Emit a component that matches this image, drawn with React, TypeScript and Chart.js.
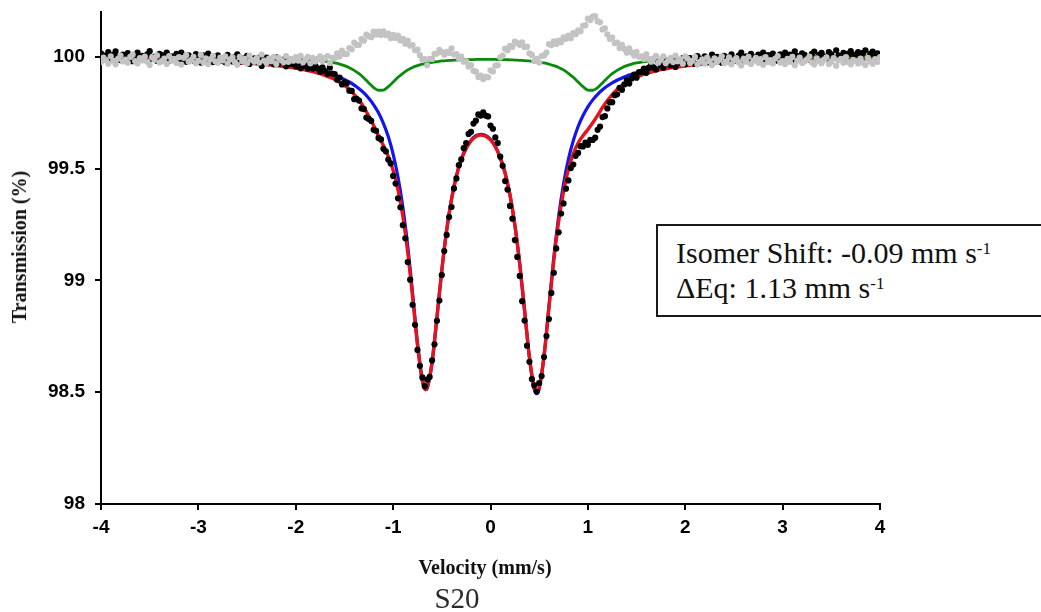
import { useEffect, useRef } from 'react';
import { Chart, registerables } from 'chart.js';

Chart.register(...registerables);

// Velocity channels (mm/s)
const channelVelocity = [
  -4, -3.975, -3.95, -3.925, -3.9, -3.875, -3.85, -3.825, -3.8, -3.775,
  -3.75, -3.725, -3.7, -3.675, -3.65, -3.625, -3.6, -3.575, -3.55, -3.525,
  -3.5, -3.475, -3.45, -3.425, -3.4, -3.375, -3.35, -3.325, -3.3, -3.275,
  -3.25, -3.225, -3.2, -3.175, -3.15, -3.125, -3.1, -3.075, -3.05, -3.025,
  -3, -2.975, -2.95, -2.925, -2.9, -2.875, -2.85, -2.825, -2.8, -2.775,
  -2.75, -2.725, -2.7, -2.675, -2.65, -2.625, -2.6, -2.575, -2.55, -2.525,
  -2.5, -2.475, -2.45, -2.425, -2.4, -2.375, -2.35, -2.325, -2.3, -2.275,
  -2.25, -2.225, -2.2, -2.175, -2.15, -2.125, -2.1, -2.075, -2.05, -2.025,
  -2, -1.975, -1.95, -1.925, -1.9, -1.875, -1.85, -1.825, -1.8, -1.775,
  -1.75, -1.725, -1.7, -1.675, -1.65, -1.625, -1.6, -1.575, -1.55, -1.525,
  -1.5, -1.475, -1.45, -1.425, -1.4, -1.375, -1.35, -1.325, -1.3, -1.275,
  -1.25, -1.225, -1.2, -1.175, -1.15, -1.125, -1.1, -1.075, -1.05, -1.025,
  -1, -0.975, -0.95, -0.925, -0.9, -0.875, -0.85, -0.825, -0.8, -0.775,
  -0.75, -0.725, -0.7, -0.675, -0.65, -0.625, -0.6, -0.575, -0.55, -0.525,
  -0.5, -0.475, -0.45, -0.425, -0.4, -0.375, -0.35, -0.325, -0.3, -0.275,
  -0.25, -0.225, -0.2, -0.175, -0.15, -0.125, -0.1, -0.075, -0.05, -0.025,
  0, 0.025, 0.05, 0.075, 0.1, 0.125, 0.15, 0.175, 0.2, 0.225,
  0.25, 0.275, 0.3, 0.325, 0.35, 0.375, 0.4, 0.425, 0.45, 0.475,
  0.5, 0.525, 0.55, 0.575, 0.6, 0.625, 0.65, 0.675, 0.7, 0.725,
  0.75, 0.775, 0.8, 0.825, 0.85, 0.875, 0.9, 0.925, 0.95, 0.975,
  1, 1.025, 1.05, 1.075, 1.1, 1.125, 1.15, 1.175, 1.2, 1.225,
  1.25, 1.275, 1.3, 1.325, 1.35, 1.375, 1.4, 1.425, 1.45, 1.475,
  1.5, 1.525, 1.55, 1.575, 1.6, 1.625, 1.65, 1.675, 1.7, 1.725,
  1.75, 1.775, 1.8, 1.825, 1.85, 1.875, 1.9, 1.925, 1.95, 1.975,
  2, 2.025, 2.05, 2.075, 2.1, 2.125, 2.15, 2.175, 2.2, 2.225,
  2.25, 2.275, 2.3, 2.325, 2.35, 2.375, 2.4, 2.425, 2.45, 2.475,
  2.5, 2.525, 2.55, 2.575, 2.6, 2.625, 2.65, 2.675, 2.7, 2.725,
  2.75, 2.775, 2.8, 2.825, 2.85, 2.875, 2.9, 2.925, 2.95, 2.975,
  3, 3.025, 3.05, 3.075, 3.1, 3.125, 3.15, 3.175, 3.2, 3.225,
  3.25, 3.275, 3.3, 3.325, 3.35, 3.375, 3.4, 3.425, 3.45, 3.475,
  3.5, 3.525, 3.55, 3.575, 3.6, 3.625, 3.65, 3.675, 3.7, 3.725,
  3.75, 3.775, 3.8, 3.825, 3.85, 3.875, 3.9, 3.925, 3.95, 3.975,
  4,
];

// Measured transmission (%) - black points
const measuredTransmission = [
  100.015, 99.995, 100.006, 100.021, 99.988, 100.008, 100.024, 99.999, 99.985, 100.010,
  100.002, 100.016, 99.990, 99.980, 100.008, 100.019, 99.994, 100.004, 99.987, 100.011,
  100.025, 99.991, 100.001, 99.981, 100.013, 100.007, 99.994, 100.018, 99.983, 100.002,
  99.995, 100.013, 99.987, 100.019, 99.989, 99.977, 100.006, 99.998, 99.983, 100.012,
  100.001, 99.974, 100.006, 99.988, 100.014, 99.991, 99.976, 100.000, 100.006, 99.982,
  99.994, 99.975, 100.008, 99.988, 99.979, 99.999, 100.011, 99.976, 99.993, 99.983,
  100.004, 99.968, 99.986, 99.993, 99.976, 99.996, 99.959, 99.985, 99.996, 99.975,
  99.987, 99.966, 99.997, 99.969, 99.978, 99.987, 99.957, 99.982, 99.968, 99.974, 99.957,
  99.970, 99.948, 99.975, 99.960, 99.947, 99.973, 99.947, 99.961, 99.948, 99.933,
  99.953, 99.936, 99.924, 99.951, 99.925, 99.922, 99.897, 99.907, 99.876, 99.885,
  99.881, 99.848, 99.847, 99.810, 99.812, 99.804, 99.769, 99.766, 99.728, 99.722,
  99.713, 99.673, 99.669, 99.637, 99.630, 99.588, 99.577, 99.540, 99.523, 99.467,
  99.433, 99.367, 99.327, 99.247, 99.188, 99.082, 99.003, 98.891, 98.801, 98.689,
  98.618, 98.566, 98.527, 98.556, 98.568, 98.642, 98.714, 98.819, 98.910, 99.024,
  99.131, 99.203, 99.283, 99.328, 99.411, 99.456, 99.515, 99.541, 99.591, 99.614,
  99.655, 99.664, 99.701, 99.714, 99.742, 99.737, 99.751, 99.737, 99.733, 99.692,
  99.678, 99.639, 99.614, 99.553, 99.512, 99.444, 99.406, 99.333, 99.276, 99.180,
  99.105, 99.020, 98.907, 98.820, 98.708, 98.636, 98.559, 98.530, 98.503, 98.541,
  98.572, 98.657, 98.751, 98.827, 98.944, 99.034, 99.143, 99.215, 99.299, 99.344,
  99.410, 99.447, 99.502, 99.518, 99.557, 99.570, 99.600, 99.599, 99.616, 99.606,
  99.628, 99.628, 99.638, 99.673, 99.688, 99.730, 99.734, 99.769, 99.796, 99.797,
  99.828, 99.832, 99.861, 99.852, 99.876, 99.896, 99.880, 99.903, 99.920, 99.906,
  99.931, 99.932, 99.947, 99.928, 99.951, 99.965, 99.952, 99.943, 99.975, 99.963,
  99.951, 99.983, 99.973, 99.962, 99.982, 99.954, 99.981, 99.973, 99.994, 99.966,
  99.974, 99.994, 99.985, 99.968, 100.003, 99.992, 99.982, 100.002, 99.975, 99.992,
  100.010, 99.980, 99.999, 99.987, 99.973, 100.004, 99.997, 99.980, 100.011, 99.994,
  99.984, 100.005, 100.018, 99.990, 100.002, 99.980, 100.013, 99.998, 99.987, 100.009,
  99.993, 100.019, 99.985, 100.007, 99.999, 100.014, 99.992, 99.982, 100.011, 100.004,
  100.018, 99.994, 100.009, 99.987, 100.024, 100.004, 99.991, 100.015, 100.008, 99.999,
  99.986, 100.013, 100.023, 99.995, 100.008, 100.017, 100.002, 99.992, 100.021, 100.011,
  99.995, 100.029, 100.006, 100.000, 100.017, 99.992, 100.014, 100.025, 100.005, 100.010,
  100.021, 99.999, 100.017, 100.029, 99.997, 100.013, 100.023, 100.003, 100.015, 99.994,
];

// Residual (%) - grey points
const residualTransmission = [
  99.976, 99.996, 99.985, 99.969, 100.002, 99.982, 99.966, 99.991, 100.005, 99.979,
  99.987, 99.973, 99.999, 100.009, 99.981, 99.970, 99.994, 99.984, 100.001, 99.977,
  99.963, 99.997, 99.986, 100.006, 99.974, 99.980, 99.992, 99.968, 100.003, 99.983,
  99.990, 99.972, 99.998, 99.965, 99.995, 100.007, 99.978, 99.985, 100.000, 99.971,
  99.982, 100.008, 99.975, 99.993, 99.967, 99.989, 100.004, 99.979, 99.973, 99.996,
  99.984, 100.002, 99.969, 99.988, 99.997, 99.976, 99.964, 99.999, 99.981, 99.991,
  99.970, 100.005, 99.986, 99.978, 99.994, 99.974, 100.010, 99.983, 99.972, 99.992,
  99.980, 100.000, 99.968, 99.995, 99.985, 99.975, 100.003, 99.977, 99.990, 99.982, 99.998,
  99.983, 100.004, 99.975, 99.988, 99.999, 99.971, 99.995, 99.979, 99.990, 100.002,
  99.980, 99.994, 100.003, 99.972, 99.995, 99.994, 100.015, 100.001, 100.027, 100.013,
  100.012, 100.039, 100.033, 100.063, 100.053, 100.053, 100.079, 100.072, 100.099, 100.092,
  100.087, 100.112, 100.099, 100.112, 100.097, 100.114, 100.097, 100.103, 100.083, 100.098,
  100.084, 100.095, 100.073, 100.080, 100.058, 100.072, 100.049, 100.052, 100.029, 100.032,
  100.007, 99.988, 99.989, 99.962, 99.991, 99.990, 100.013, 100.014, 100.031, 100.021,
  100.009, 100.022, 100.017, 100.037, 100.010, 100.012, 99.992, 100.001, 99.978, 99.979,
  99.956, 99.963, 99.937, 99.933, 99.909, 99.916, 99.900, 99.911, 99.908, 99.939,
  99.934, 99.960, 99.962, 99.997, 100.005, 100.036, 100.029, 100.049, 100.044, 100.068,
  100.061, 100.053, 100.064, 100.043, 100.045, 100.015, 100.008, 99.981, 99.990, 99.974,
  100.003, 100.006, 100.019, 100.056, 100.052, 100.069, 100.057, 100.072, 100.065, 100.087,
  100.080, 100.094, 100.083, 100.106, 100.101, 100.118, 100.114, 100.138, 100.141, 100.170,
  100.164, 100.179, 100.182, 100.159, 100.154, 100.122, 100.127, 100.100, 100.080, 100.086,
  100.061, 100.063, 100.039, 100.053, 100.034, 100.018, 100.038, 100.018, 100.005, 100.022,
  100.000, 100.002, 99.990, 100.011, 99.990, 99.978, 99.993, 100.004, 99.974, 99.988,
  100.002, 99.971, 99.983, 99.995, 99.976, 100.005, 99.980, 99.989, 99.969, 100.002,
  99.991, 99.972, 99.982, 99.999, 99.965, 99.977, 99.988, 99.969, 99.996, 99.980,
  99.963, 99.993, 99.975, 99.987, 100.002, 99.971, 99.979, 99.997, 99.966, 99.984,
  99.994, 99.974, 99.961, 99.990, 99.978, 100.000, 99.968, 99.983, 99.995, 99.973,
  99.989, 99.964, 99.998, 99.976, 99.985, 99.970, 99.992, 100.003, 99.974, 99.981,
  99.967, 99.991, 99.977, 99.999, 99.962, 99.982, 99.996, 99.972, 99.979, 99.988,
  100.001, 99.975, 99.965, 99.993, 99.980, 99.971, 99.987, 99.997, 99.968, 99.978,
  99.994, 99.960, 99.984, 99.990, 99.973, 99.998, 99.976, 99.966, 99.986, 99.981,
  99.970, 99.992, 99.974, 99.963, 99.995, 99.979, 99.969, 99.989, 99.977, 99.998,
];

// Fit curves
const fitVelocity = [
  -4, -3.5, -3, -2.5, -2.25,
  -2, -1.95, -1.9, -1.85, -1.8, -1.75, -1.7, -1.65, -1.6, -1.55, -1.5, -1.45, -1.4, -1.35,
  -1.3, -1.25, -1.2, -1.15, -1.1, -1.05, -1, -0.95, -0.9, -0.85, -0.8, -0.75, -0.7,
  -0.665,
  -0.65, -0.6, -0.55, -0.5, -0.45, -0.4, -0.35, -0.3, -0.25, -0.2, -0.15, -0.1, -0.05,
  0, 0.05, 0.1, 0.15, 0.2, 0.25, 0.3, 0.35, 0.4, 0.45,
  0.475,
  0.5, 0.55, 0.6, 0.65, 0.7, 0.75, 0.8, 0.85, 0.9, 0.95, 1, 1.05, 1.1, 1.15, 1.2, 1.25,
  1.3, 1.35, 1.4, 1.45, 1.5, 1.55, 1.6, 1.65, 1.7, 1.75, 1.8, 1.85, 1.9, 1.95, 2,
  2.25, 2.5, 3, 3.5, 4,
];

const doubletFit = [
  99.991, 99.988, 99.983, 99.974, 99.967,
  99.955, 99.952, 99.948, 99.944, 99.940, 99.935, 99.930, 99.923, 99.916, 99.908, 99.898, 99.887, 99.873, 99.857,
  99.838, 99.814, 99.785, 99.749, 99.702, 99.643, 99.565, 99.462, 99.327, 99.154, 98.943, 98.721, 98.554,
  98.511,
  98.518, 98.632, 98.833, 99.045, 99.225, 99.365, 99.468, 99.542, 99.593, 99.627, 99.647, 99.653, 99.648,
  99.631, 99.599, 99.550, 99.480, 99.382, 99.248, 99.073, 98.863, 98.651, 98.511,
  98.493,
  98.515, 98.663, 98.883, 99.103, 99.287, 99.431, 99.541, 99.624, 99.688, 99.737, 99.776, 99.807, 99.832, 99.852, 99.869, 99.883,
  99.895, 99.905, 99.914, 99.921, 99.928, 99.934, 99.939, 99.943, 99.947, 99.951, 99.954, 99.957, 99.959, 99.962, 99.964,
  99.972, 99.978, 99.985, 99.989, 99.992,
];

const totalFit = [
  99.991, 99.987, 99.982, 99.972, 99.963,
  99.949, 99.945, 99.940, 99.936, 99.930, 99.924, 99.916, 99.908, 99.898, 99.886, 99.871, 99.854, 99.832, 99.806,
  99.774, 99.735, 99.692, 99.647, 99.603, 99.554, 99.492, 99.406, 99.286, 99.125, 98.925, 98.712, 98.552,
  98.512,
  98.520, 98.635, 98.836, 99.046, 99.225, 99.363, 99.466, 99.539, 99.590, 99.624, 99.643, 99.650, 99.645,
  99.628, 99.597, 99.548, 99.479, 99.382, 99.249, 99.076, 98.868, 98.658, 98.518,
  98.499,
  98.520, 98.663, 98.877, 99.088, 99.264, 99.398, 99.496, 99.566, 99.614, 99.647, 99.675, 99.705, 99.738, 99.773, 99.804, 99.831,
  99.854, 99.872, 99.887, 99.899, 99.909, 99.918, 99.925, 99.931, 99.937, 99.942, 99.946, 99.950, 99.953, 99.956, 99.959,
  99.969, 99.976, 99.984, 99.989, 99.991,
];

const minorFit = [
  99.999, 99.999, 99.998, 99.996, 99.994,
  99.990, 99.989, 99.988, 99.986, 99.984, 99.982, 99.979, 99.976, 99.972, 99.967, 99.960, 99.951, 99.939, 99.924,
  99.905, 99.883, 99.862, 99.850, 99.851, 99.866, 99.887, 99.908, 99.926, 99.941, 99.952, 99.960, 99.967,
  99.970,
  99.972, 99.975, 99.978, 99.981, 99.983, 99.984, 99.985, 99.986, 99.987, 99.987, 99.988, 99.988, 99.988,
  99.988, 99.988, 99.987, 99.987, 99.986, 99.985, 99.984, 99.983, 99.981, 99.978,
  99.977,
  99.975, 99.972, 99.967, 99.960, 99.952, 99.941, 99.926, 99.908, 99.887, 99.866, 99.851, 99.850, 99.862, 99.883, 99.905, 99.924,
  99.939, 99.951, 99.960, 99.967, 99.972, 99.976, 99.979, 99.982, 99.984, 99.986, 99.988, 99.989, 99.990, 99.991, 99.992,
  99.995, 99.996, 99.998, 99.999, 99.999,
];

const xTickValues = [-4, -3, -2, -1, 0, 1, 2, 3, 4];
const yTickValues = [98, 98.5, 99, 99.5, 100];

const toPoints = (xs: number[], ys: number[]) => xs.map((x, i) => ({ x, y: ys[i] }));

export default function App() {
  const canvasRef = useRef<HTMLCanvasElement>(null);

  useEffect(() => {
    if (!canvasRef.current) return;
    const tickFont = { family: "'Liberation Sans', Arial, sans-serif", size: 19, weight: 'bold' as const };
    const chart = new Chart(canvasRef.current, {
      type: 'scatter',
      data: {
        datasets: [
          {
            label: 'Residual',
            data: toPoints(channelVelocity, residualTransmission),
            backgroundColor: '#c3c3c3',
            borderWidth: 0,
            pointRadius: 3.1,
            pointBorderWidth: 0,
            order: 1,
          },
          {
            label: 'Measured',
            data: toPoints(channelVelocity, measuredTransmission),
            backgroundColor: '#000000',
            borderWidth: 0,
            pointRadius: 3.1,
            pointBorderWidth: 0,
            order: 2,
          },
          {
            label: 'Minor doublet',
            data: toPoints(fitVelocity, minorFit),
            showLine: true,
            borderColor: '#0a8a0a',
            borderWidth: 2.8,
            pointRadius: 0,
            cubicInterpolationMode: 'monotone',
            order: 3,
          },
          {
            label: 'Total fit',
            data: toPoints(fitVelocity, totalFit),
            showLine: true,
            borderColor: '#e5141b',
            borderWidth: 3.4,
            pointRadius: 0,
            cubicInterpolationMode: 'monotone',
            order: 4,
          },
          {
            label: 'Main doublet',
            data: toPoints(fitVelocity, doubletFit),
            showLine: true,
            borderColor: '#1414f0',
            borderWidth: 3.2,
            pointRadius: 0,
            cubicInterpolationMode: 'monotone',
            order: 5,
          },
        ],
      },
      options: {
        responsive: false,
        animation: false,
        devicePixelRatio: 1,
        events: [],
        layout: { padding: { left: 41, right: 161, top: 12, bottom: 68 } },
        plugins: { legend: { display: false }, tooltip: { enabled: false } },
        scales: {
          x: {
            type: 'linear',
            min: -4,
            max: 4,
            afterBuildTicks: (s: any) => {
              s.ticks = xTickValues.map((v) => ({ value: v }));
            },
            afterFit: (s: any) => {
              s.height = 40;
              s.paddingLeft = 0;
              s.paddingRight = 0;
            },
            ticks: {
              font: tickFont,
              color: '#000',
              padding: 6,
              maxRotation: 0,
              autoSkip: false,
              callback: (v: any) => String(v),
            },
            grid: {
              display: true,
              drawOnChartArea: false,
              drawTicks: true,
              tickLength: 6,
              color: '#000',
              lineWidth: 2,
            },
            border: { display: true, color: '#000', width: 2 },
          },
          y: {
            type: 'linear',
            min: 98,
            max: 100.2,
            afterBuildTicks: (s: any) => {
              s.ticks = yTickValues.map((v) => ({ value: v }));
            },
            afterFit: (s: any) => {
              s.width = 60;
              s.paddingTop = 0;
              s.paddingBottom = 0;
            },
            ticks: {
              font: tickFont,
              color: '#000',
              padding: 10,
              autoSkip: false,
              callback: (v: any) => String(v),
            },
            grid: {
              display: true,
              drawOnChartArea: false,
              drawTicks: true,
              tickLength: 6,
              color: '#000',
              lineWidth: 2,
            },
            border: { display: true, color: '#000', width: 2 },
          },
        },
      },
    });
    return () => chart.destroy();
  }, []);

  const serif = "'Liberation Serif', 'Times New Roman', serif";
  const supStyle: React.CSSProperties = { fontSize: 17, position: 'relative', top: -9, lineHeight: 1 };

  return (
    <div
      style={{
        position: 'absolute',
        left: 0,
        top: 0,
        width: 1041,
        height: 612,
        overflow: 'hidden',
        background: '#fff',
      }}
    >
      <canvas ref={canvasRef} width={1041} height={612} style={{ position: 'absolute', left: 0, top: 0 }} />
      <div
        style={{
          position: 'absolute',
          left: 19,
          top: 247,
          transform: 'translate(-50%, -50%) rotate(-90deg)',
          fontFamily: serif,
          fontWeight: 'bold',
          fontSize: 20,
          whiteSpace: 'nowrap',
          color: '#111',
          lineHeight: 1,
        }}
      >
        Transmission (%)
      </div>
      <div
        style={{
          position: 'absolute',
          left: 485,
          top: 567,
          transform: 'translate(-50%, -50%)',
          fontFamily: serif,
          fontWeight: 'bold',
          fontSize: 20,
          whiteSpace: 'nowrap',
          color: '#111',
          lineHeight: 1,
        }}
      >
        Velocity (mm/s)
      </div>
      <div
        style={{
          position: 'absolute',
          left: 457,
          top: 584,
          transform: 'translateX(-50%)',
          fontFamily: serif,
          fontSize: 29,
          whiteSpace: 'nowrap',
          color: '#2a2a2a',
          lineHeight: 1,
        }}
      >
        S20
      </div>
      <div
        style={{
          position: 'absolute',
          left: 656,
          top: 224,
          width: 420,
          height: 93,
          border: '2px solid #1a1a1a',
          boxSizing: 'border-box',
          background: '#fff',
        }}
      />
      <div
        style={{
          position: 'absolute',
          left: 676,
          top: 238,
          fontFamily: serif,
          fontSize: 30,
          lineHeight: 1,
          whiteSpace: 'nowrap',
          color: '#111',
        }}
      >
        Isomer Shift: -0.09 mm s<span style={supStyle}>-1</span>
      </div>
      <div
        style={{
          position: 'absolute',
          left: 676,
          top: 273,
          fontFamily: serif,
          fontSize: 30,
          lineHeight: 1,
          whiteSpace: 'nowrap',
          color: '#111',
        }}
      >
        ΔEq: 1.13 mm s<span style={supStyle}>-1</span>
      </div>
    </div>
  );
}
